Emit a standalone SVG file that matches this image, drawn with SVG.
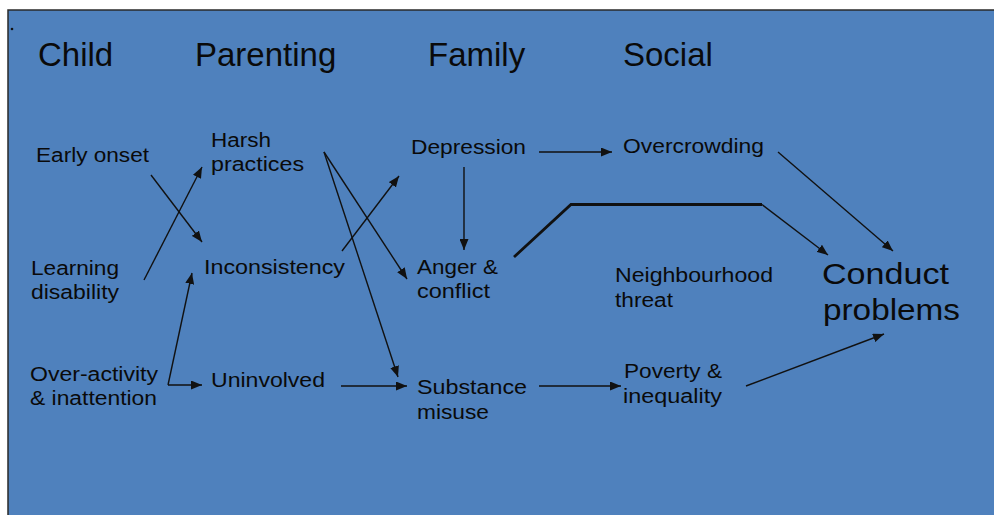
<svg xmlns="http://www.w3.org/2000/svg" width="994" height="515" viewBox="0 0 994 515">
  <defs>
    <style>
      .hdr { font-family: "Liberation Sans", Arial, sans-serif; font-size: 33px; fill: #0a0a0a; }
      .lbl { font-family: "Liberation Sans", Arial, sans-serif; font-size: 20px; fill: #0a0a0a; }
      .big { font-family: "Liberation Sans", Arial, sans-serif; font-size: 30px; fill: #0a0a0a; }
      .arr { stroke: #111; stroke-width: 1.4; fill: none; marker-end: url(#ah); }
      .thick { stroke: #111; stroke-width: 2.8; fill: none; }
    </style>
    <marker id="ah" markerUnits="userSpaceOnUse" markerWidth="12" markerHeight="9" refX="11" refY="4.5" orient="auto">
      <path d="M0,0 L11,4.5 L0,9 z" fill="#111"/>
    </marker>
  </defs>

  <rect x="0" y="0" width="994" height="515" fill="#ffffff"/>
  <rect x="8" y="10" width="990" height="510" fill="#4F81BD" stroke="#2a2a2a" stroke-width="1.5"/>
  <circle cx="12" cy="29" r="1.3" fill="#111"/>

  <g id="headers">
    <text class="hdr" x="38" y="66">Child</text>
    <text class="hdr" x="195" y="66">Parenting</text>
    <text class="hdr" x="428" y="66">Family</text>
    <text class="hdr" x="623" y="66">Social</text>
  </g>

  <g id="connectors">
    <line class="arr" x1="151" y1="175" x2="202" y2="242"/>
    <line class="arr" x1="144" y1="280" x2="202" y2="167"/>
    <line class="arr" x1="168" y1="385" x2="192" y2="273"/>
    <line class="arr" x1="168" y1="385" x2="202" y2="385"/>
    <line class="arr" x1="342" y1="251" x2="399" y2="176"/>
    <line class="arr" x1="324" y1="152" x2="407" y2="279"/>
    <line class="arr" x1="324" y1="152" x2="398" y2="377"/>
    <line class="arr" x1="341" y1="386" x2="407" y2="386"/>
    <line class="arr" x1="539" y1="152" x2="612" y2="152"/>
    <line class="arr" x1="464" y1="167" x2="464" y2="250"/>
    <polyline class="thick" points="514,257 571,204.5 762,204.5"/>
    <line class="arr" x1="762" y1="204.5" x2="828" y2="255"/>
    <line class="arr" x1="778" y1="152" x2="893" y2="251"/>
    <line class="arr" x1="746" y1="386" x2="884" y2="334"/>
    <line class="arr" x1="539" y1="386" x2="621" y2="386"/>
  </g>

  <g id="early-onset"><text class="lbl" x="36" y="162" textLength="113" lengthAdjust="spacingAndGlyphs">Early onset</text></g>
  <g id="learning-disability">
    <text class="lbl" x="31" y="275" textLength="88" lengthAdjust="spacingAndGlyphs">Learning</text>
    <text class="lbl" x="31" y="299" textLength="88" lengthAdjust="spacingAndGlyphs">disability</text>
  </g>
  <g id="over-activity">
    <text class="lbl" x="30" y="381" textLength="128" lengthAdjust="spacingAndGlyphs">Over-activity</text>
    <text class="lbl" x="30" y="405" textLength="127" lengthAdjust="spacingAndGlyphs">&amp; inattention</text>
  </g>
  <g id="harsh-practices">
    <text class="lbl" x="211" y="147" textLength="60" lengthAdjust="spacingAndGlyphs">Harsh</text>
    <text class="lbl" x="211" y="171" textLength="93" lengthAdjust="spacingAndGlyphs">practices</text>
  </g>
  <g id="inconsistency"><text class="lbl" x="204" y="274" textLength="141" lengthAdjust="spacingAndGlyphs">Inconsistency</text></g>
  <g id="uninvolved"><text class="lbl" x="211" y="387" textLength="114" lengthAdjust="spacingAndGlyphs">Uninvolved</text></g>
  <g id="depression"><text class="lbl" x="411" y="154" textLength="115" lengthAdjust="spacingAndGlyphs">Depression</text></g>
  <g id="anger-conflict">
    <text class="lbl" x="417" y="274" textLength="81" lengthAdjust="spacingAndGlyphs">Anger &amp;</text>
    <text class="lbl" x="417" y="298" textLength="73" lengthAdjust="spacingAndGlyphs">conflict</text>
  </g>
  <g id="substance-misuse">
    <text class="lbl" x="417" y="394" textLength="110" lengthAdjust="spacingAndGlyphs">Substance</text>
    <text class="lbl" x="417" y="419" textLength="72" lengthAdjust="spacingAndGlyphs">misuse</text>
  </g>
  <g id="overcrowding"><text class="lbl" x="623" y="153" textLength="141" lengthAdjust="spacingAndGlyphs">Overcrowding</text></g>
  <g id="neighbourhood-threat">
    <text class="lbl" x="615" y="282" textLength="158" lengthAdjust="spacingAndGlyphs">Neighbourhood</text>
    <text class="lbl" x="615" y="307" textLength="58" lengthAdjust="spacingAndGlyphs">threat</text>
  </g>
  <g id="poverty-inequality">
    <text class="lbl" x="624" y="378" textLength="98" lengthAdjust="spacingAndGlyphs">Poverty &amp;</text>
    <text class="lbl" x="623" y="403" textLength="99" lengthAdjust="spacingAndGlyphs">inequality</text>
  </g>
  <g id="conduct-problems">
    <text class="big" x="822" y="284" textLength="127" lengthAdjust="spacingAndGlyphs">Conduct</text>
    <text class="big" x="823" y="320" textLength="137" lengthAdjust="spacingAndGlyphs">problems</text>
  </g>
</svg>
